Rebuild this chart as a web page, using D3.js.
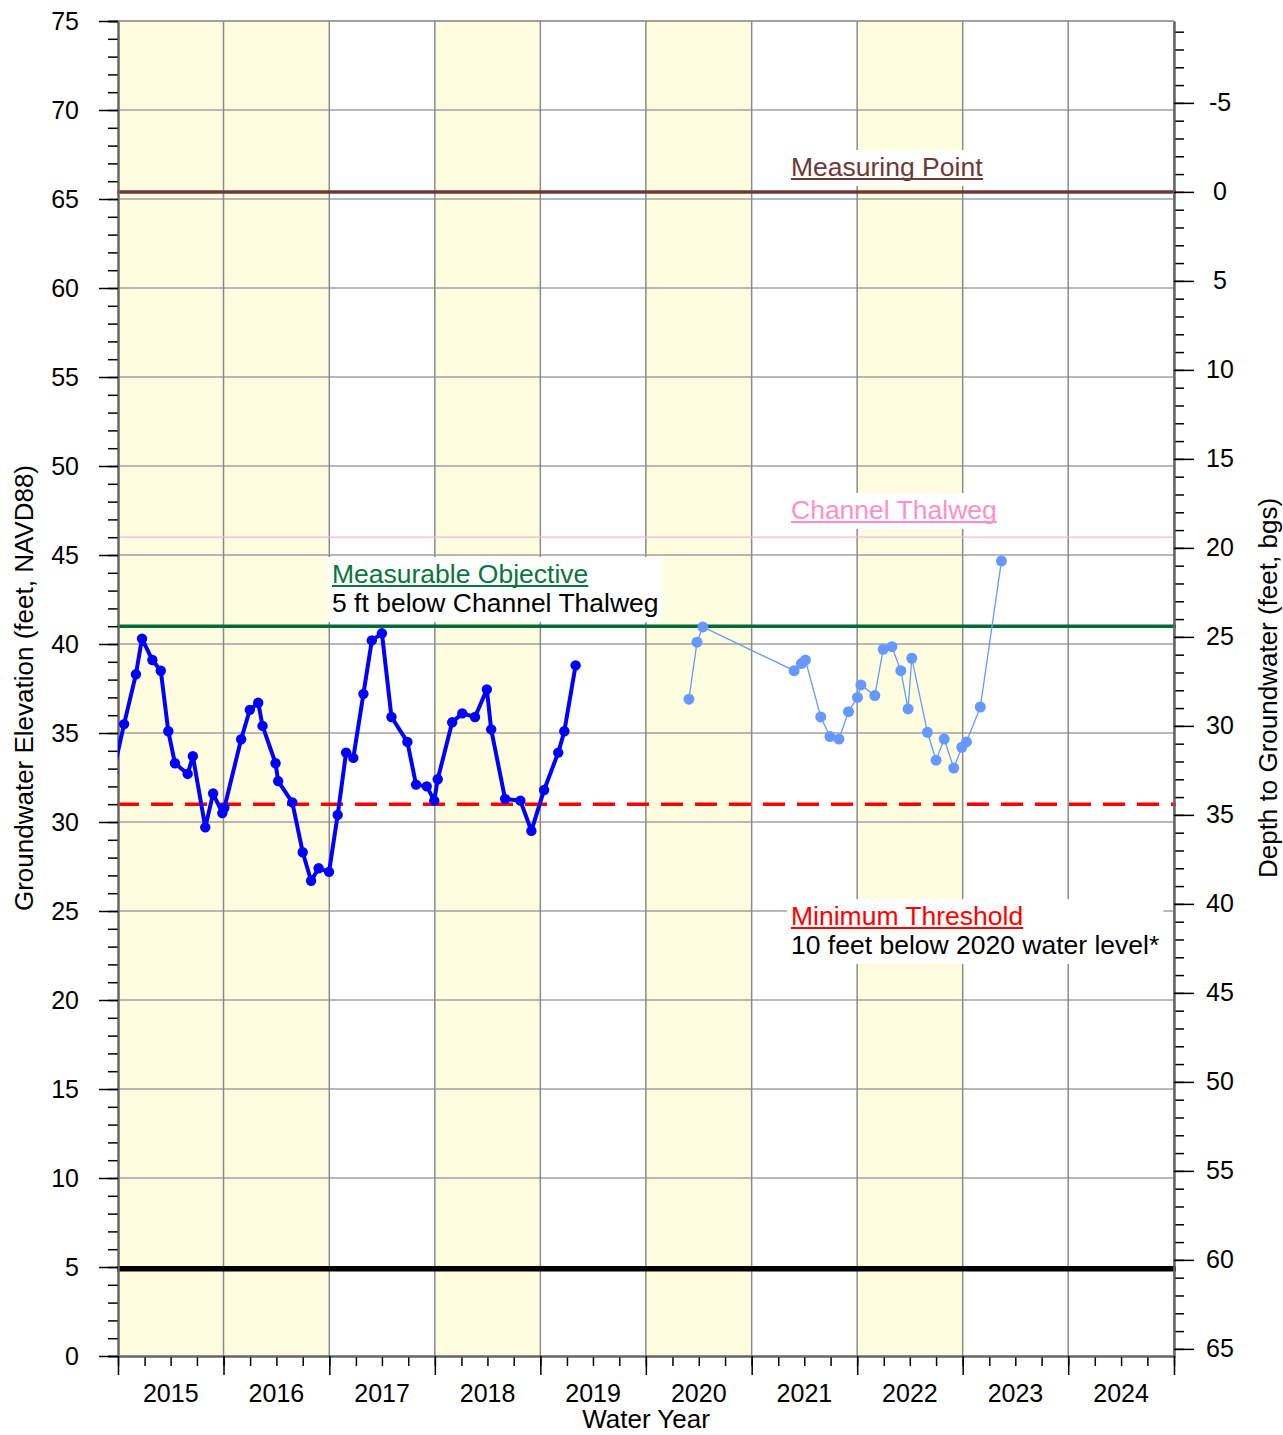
<!DOCTYPE html>
<html>
<head>
<meta charset="utf-8">
<script src="https://cdn.jsdelivr.net/npm/d3@7"></script>
<style>
  body { margin: 0; background: #fff; }
  text { font-family: Arial, "Liberation Sans", sans-serif; }
</style>
</head>
<body>
<div id="chart"></div>
<script>
// water years on the x axis, and which of them get the yellow band
const waterYears = [2015, 2016, 2017, 2018, 2019, 2020, 2021, 2022, 2023, 2024];
const shadedYears = [2015, 2016, 2018, 2020, 2022];

// left axis (elevation) and right axis (depth) ticks
const elevTicks = [0, 5, 10, 15, 20, 25, 30, 35, 40, 45, 50, 55, 60, 65, 70, 75];
const depthTicks = [-5, 0, 5, 10, 15, 20, 25, 30, 35, 40, 45, 50, 55, 60, 65];

// reference levels (feet, NAVD88)
const measuringPoint = 65.4;
const channelThalweg = 46;
const measurableObjective = 41;
const minimumThreshold = 31;
const wellBottom = 4.9;

// groundwater elevation, first record (2014 - 2019)
const series1 = [
  ["2014-09-15", 32.8], ["2014-10-22", 35.5], ["2014-12-02", 38.3], ["2014-12-23", 40.3],
  ["2015-01-28", 39.1], ["2015-02-26", 38.5], ["2015-03-24", 35.1], ["2015-04-16", 33.3],
  ["2015-05-30", 32.7], ["2015-06-17", 33.7], ["2015-07-30", 29.7], ["2015-08-26", 31.6],
  ["2015-09-27", 30.5], ["2015-10-04", 30.8], ["2015-12-01", 34.65], ["2015-12-31", 36.3],
  ["2016-01-29", 36.7], ["2016-02-13", 35.4], ["2016-03-29", 33.3], ["2016-04-07", 32.3],
  ["2016-05-26", 31.1], ["2016-07-01", 28.3], ["2016-07-30", 26.7], ["2016-08-25", 27.4],
  ["2016-09-30", 27.2], ["2016-10-30", 30.4], ["2016-11-28", 33.9], ["2016-12-23", 33.6],
  ["2017-01-27", 37.2], ["2017-02-25", 40.2], ["2017-04-01", 40.6], ["2017-05-04", 35.9],
  ["2017-06-28", 34.5], ["2017-07-28", 32.1], ["2017-09-03", 32.0], ["2017-09-29", 31.2],
  ["2017-10-11", 32.4], ["2017-11-30", 35.6], ["2018-01-04", 36.1], ["2018-02-17", 35.9],
  ["2018-03-30", 37.45], ["2018-04-14", 35.2], ["2018-06-01", 31.3], ["2018-07-24", 31.2],
  ["2018-08-31", 29.5], ["2018-10-14", 31.8], ["2018-12-02", 33.9], ["2018-12-23", 35.1],
  ["2019-01-31", 38.8]
];

// groundwater elevation, second record (2020 - 2023)
const series2 = [
  ["2020-02-27", 36.9], ["2020-03-26", 40.1], ["2020-04-15", 40.96], ["2021-02-25", 38.5],
  ["2021-03-22", 38.9], ["2021-04-05", 39.1], ["2021-05-28", 35.9], ["2021-06-29", 34.8],
  ["2021-07-30", 34.66], ["2021-09-01", 36.2], ["2021-10-02", 37.0], ["2021-10-14", 37.7],
  ["2021-12-01", 37.1], ["2021-12-30", 39.7], ["2022-01-29", 39.85], ["2022-03-01", 38.5],
  ["2022-03-26", 36.35], ["2022-04-08", 39.2], ["2022-06-01", 35.04], ["2022-07-01", 33.47],
  ["2022-07-29", 34.66], ["2022-08-31", 33.03], ["2022-09-28", 34.2], ["2022-10-14", 34.5],
  ["2022-12-01", 36.46], ["2023-02-12", 44.66]
];

const W = 1283, H = 1435;
const plot = {left: 118, right: 1174, top: 21, bottom: 1356};
const parse = d3.timeParse("%Y-%m-%d");

const svg = d3.select("#chart").append("svg")
  .attr("width", W).attr("height", H);

const x = d3.scaleTime()
  .domain([new Date(2014, 9, 1), new Date(2024, 9, 1)])
  .range([plot.left, plot.right]);

const y = d3.scaleLinear().domain([0, 75]).range([plot.bottom, plot.top]);
// depth below measuring point, shares the elevation scale
const yDepth = d3.scaleLinear()
  .domain([measuringPoint - 0, measuringPoint - 75])
  .range([plot.bottom, plot.top]);

const wyStart = function(wy) { return new Date(wy - 1, 9, 1); };
const wyEnd = function(wy) { return new Date(wy, 9, 1); };

// ---------------- background bands ----------------
svg.append("g").selectAll("rect")
  .data(shadedYears)
  .enter().append("rect")
  .attr("x", d => x(wyStart(d)))
  .attr("width", d => x(wyEnd(d)) - x(wyStart(d)))
  .attr("y", plot.top)
  .attr("height", plot.bottom - plot.top)
  .attr("fill", "#fffde0");

// ---------------- grid ----------------
const grid = svg.append("g");
grid.selectAll("line.h")
  .data(elevTicks.filter(d => d > 0))
  .enter().append("line")
  .attr("x1", plot.left).attr("x2", plot.right)
  .attr("y1", d => y(d)).attr("y2", d => y(d))
  .attr("stroke", "#a0a0a0").attr("stroke-width", 1.5);

grid.selectAll("line.v")
  .data(waterYears.map(wyEnd))
  .enter().append("line")
  .attr("x1", d => x(d)).attr("x2", d => x(d))
  .attr("y1", plot.top).attr("y2", plot.bottom)
  .attr("stroke", "#8a8a8a").attr("stroke-width", 1.5);

// ---------------- reference lines ----------------
const refs = svg.append("g");
function hline(v, color, w, dash) {
  refs.append("line")
    .attr("x1", plot.left - 1).attr("x2", plot.right + 2)
    .attr("y1", y(v)).attr("y2", y(v))
    .attr("stroke", color).attr("stroke-width", w)
    .attr("stroke-dasharray", dash || null);
}
hline(channelThalweg, "#ffb3d6", 1.2);
hline(measuringPoint, "#6e3838", 3.5);
hline(measurableObjective, "#006b38", 3.5);
hline(minimumThreshold, "#ff0000", 3.5, "22,12");
hline(wellBottom, "#000", 5.5);

// ---------------- axes ----------------
function styleAxis(g) {
  g.select(".domain").attr("stroke", "#666").attr("stroke-width", 2);
  g.selectAll(".tick line").attr("stroke", "#000").attr("stroke-width", 1.5);
  g.selectAll(".tick text").attr("font-size", 25).attr("fill", "#000")
    .style("font-family", "Arial, 'Liberation Sans', sans-serif");
}

// left: minor then major
svg.append("g")
  .attr("transform", "translate(" + plot.left + ",0)")
  .call(d3.axisLeft(y).tickValues(d3.range(0, 76, 1)).tickSize(10).tickFormat(""))
  .call(styleAxis);
svg.append("g")
  .attr("transform", "translate(" + plot.left + ",0)")
  .call(d3.axisLeft(y).tickValues(elevTicks).tickSize(19).tickPadding(20).tickSizeOuter(0))
  .call(styleAxis);

// right: depth to groundwater
svg.append("g")
  .attr("transform", "translate(" + plot.right + ",0)")
  .call(d3.axisRight(yDepth).tickValues(d3.range(-9, 66, 1)).tickSize(10).tickSizeOuter(0).tickFormat(""))
  .call(styleAxis);
svg.append("g")
  .attr("transform", "translate(" + plot.right + ",0)")
  .call(d3.axisRight(yDepth).tickValues(depthTicks).tickSize(20).tickSizeOuter(0)
    .tickFormat(d => String(d)))
  .call(styleAxis)
  .call(g => g.selectAll(".tick text").attr("text-anchor", "middle").attr("x", 46));

// top frame line
svg.append("line")
  .attr("x1", plot.left).attr("x2", plot.right)
  .attr("y1", plot.top).attr("y2", plot.top)
  .attr("stroke", "#999").attr("stroke-width", 1.5);

// bottom: quarterly minor ticks, water-year major ticks
const quarters = d3.timeMonth.range(new Date(2014, 9, 1), new Date(2024, 9, 2), 3);
svg.append("g")
  .attr("transform", "translate(0," + plot.bottom + ")")
  .call(d3.axisBottom(x).tickValues(quarters).tickSize(10).tickSizeOuter(0).tickFormat(""))
  .call(styleAxis);
svg.append("g")
  .attr("transform", "translate(0," + plot.bottom + ")")
  .call(d3.axisBottom(x).tickValues([wyStart(2015)].concat(waterYears.map(wyEnd)))
    .tickSize(19).tickSizeOuter(0).tickFormat(""))
  .call(styleAxis);

svg.append("g").selectAll("text")
  .data(waterYears)
  .enter().append("text")
  .attr("x", d => (x(wyStart(d)) + x(wyEnd(d))) / 2)
  .attr("y", 1402)
  .attr("text-anchor", "middle")
  .attr("font-size", 25)
  .text(d => d);

// axis titles
svg.append("text")
  .attr("x", (plot.left + plot.right) / 2).attr("y", 1428)
  .attr("text-anchor", "middle").attr("font-size", 26)
  .text("Water Year");

svg.append("text")
  .attr("transform", "translate(33," + 688 + ") rotate(-90)")
  .attr("text-anchor", "middle").attr("font-size", 26)
  .text("Groundwater Elevation (feet, NAVD88)");

svg.append("text")
  .attr("transform", "translate(1277," + 688 + ") rotate(-90)")
  .attr("text-anchor", "middle").attr("font-size", 26)
  .text("Depth to Groundwater (feet, bgs)");

// ---------------- labels with white boxes ----------------
function label(xPos, yPos, title, color, sub) {
  const g = svg.append("g");
  const box = g.append("rect").attr("fill", "#fff");
  const t1 = g.append("text").attr("x", xPos).attr("y", yPos)
    .attr("font-size", 26.5).attr("fill", color).text(title);
  const b1 = t1.node().getBBox();
  g.append("line")
    .attr("x1", b1.x).attr("x2", b1.x + b1.width)
    .attr("y1", yPos + 3).attr("y2", yPos + 3)
    .attr("stroke", color).attr("stroke-width", 2);
  let bx = b1;
  if (sub) {
    g.append("text").attr("x", xPos).attr("y", yPos + 29)
      .attr("font-size", 26.5).attr("fill", "#000").text(sub);
    bx = g.node().getBBox();
  }
  box.attr("x", bx.x - 4).attr("y", bx.y - 2)
    .attr("width", bx.width + 8).attr("height", bx.height + 6);
}
label(791, 176, "Measuring Point", "#6e3838");
label(791, 519, "Channel Thalweg", "#ff8fc8");
label(332, 583, "Measurable Objective", "#0b7440", "5 ft below Channel Thalweg");
label(791, 925, "Minimum Threshold", "#ff0000", "10 feet below 2020 water level*");

// ---------------- data ----------------
svg.append("clipPath").attr("id", "clip")
  .append("rect")
  .attr("x", plot.left).attr("y", plot.top)
  .attr("width", plot.right - plot.left).attr("height", plot.bottom - plot.top);

const line = d3.line()
  .x(d => x(parse(d[0])))
  .y(d => y(d[1]));

const data = svg.append("g").attr("clip-path", "url(#clip)");

data.append("path")
  .datum(series1)
  .attr("d", line)
  .attr("fill", "none").attr("stroke", "#0000ff")
  .attr("stroke-width", 4).attr("stroke-linejoin", "round");
data.selectAll("circle.s1")
  .data(series1)
  .enter().append("circle")
  .attr("cx", d => x(parse(d[0])))
  .attr("cy", d => y(d[1]))
  .attr("r", 5.2)
  .attr("fill", "#0000ff");

data.append("path")
  .datum(series2)
  .attr("d", line)
  .attr("fill", "none").attr("stroke", "#6699ff")
  .attr("stroke-width", 1.3);
data.selectAll("circle.s2")
  .data(series2)
  .enter().append("circle")
  .attr("cx", d => x(parse(d[0])))
  .attr("cy", d => y(d[1]))
  .attr("r", 5.5)
  .attr("fill", "#6699ff");
</script>
</body>
</html>
